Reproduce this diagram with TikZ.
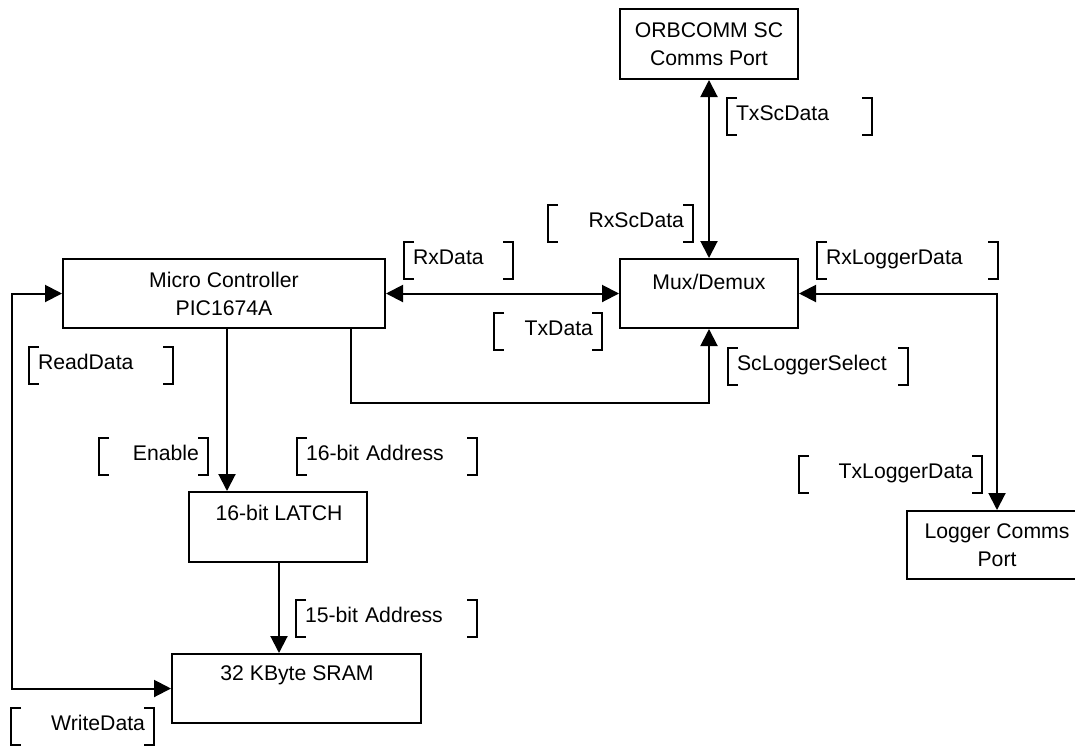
\documentclass[tikz,border=0pt]{standalone}
\usepackage{fontspec}
\setmainfont{Liberation Sans}
\usetikzlibrary{arrows.meta}

% bracketed signal name: [ text ]
\newcommand\bracketsof[1]{%
  \draw[wire] ([xshift=10pt]#1.north west) -- (#1.north west) -- (#1.south west) -- ([xshift=10pt]#1.south west);
  \draw[wire] ([xshift=-10pt]#1.north east) -- (#1.north east) -- (#1.south east) -- ([xshift=-10pt]#1.south east);
}

\begin{document}
\begin{tikzpicture}[x=1pt,y=-1pt,
  every node/.style={font=\fontsize{21.2}{28}\selectfont},
  blk/.style={draw, line width=2pt, inner sep=0pt},
  wire/.style={line width=2pt},
  tip/.style={-{Triangle[length=17pt,width=17pt]}},
  both/.style={{Triangle[length=17pt,width=17pt]}-{Triangle[length=17pt,width=17pt]}},
  sig/.style={anchor=north west, outer sep=0pt, inner xsep=9pt, inner ysep=0pt,
              minimum height=37pt, text height=15pt, text depth=8pt}
]
\useasboundingbox (0,0) rectangle (1075,745);
\fill[white] (0,0) rectangle (1075,745);

% blocks
\node[blk, minimum width=178pt, minimum height=70pt, align=center] (orb) at (709,44) {ORBCOMM SC\\Comms Port};
\node[blk, minimum width=178pt, minimum height=69pt] (mux) at (709,293.5) {};
\node (muxtext) at (709,282) {Mux/Demux};
\node[blk, minimum width=322pt, minimum height=69pt, align=center] (micro) at (224,293.5) {Micro Controller\\PIC1674A};
\node[blk, minimum width=178pt, minimum height=70pt] (latch) at (278,527) {};
\node (latchtext) at (279,513) {16-bit LATCH};
\node[blk, minimum width=249pt, minimum height=69pt] (sram) at (296.5,688.5) {};
\node (sramtext) at (297,675) {32 KByte SRAM};
\node[blk, minimum width=180pt, minimum height=68pt, align=center] (logger) at (997,545) {Logger Comms\\Port};

% connectors
\coordinate (selA) at (351,403);
\coordinate (enx) at (227,400);
\coordinate (adx) at (279,600);
\coordinate (loopx) at (12,500);

\draw[wire, both] (orb) -- (mux);
\draw[wire, both] (micro) -- (mux);
\draw[wire, tip] (micro.south -| selA) -- (selA) -| (mux.south);
\draw[wire, tip] (micro.south -| enx) -- (latch.north -| enx);
\draw[wire, tip] (latch.south -| adx) -- (sram.north -| adx);
\draw[wire, both] (micro.west) -| (loopx) |- (sram.west);
\draw[wire, both] (mux.east) -| (logger.north);

% signal names
\node[sig, text width=127pt, align=left]  (txsc)   at (727,98)  {TxScData};
\node[sig, text width=127pt, align=right] (rxsc)   at (548,205) {RxScData};
\node[sig, text width=91pt,  align=left]  (rxd)    at (404,242) {RxData};
\node[sig, text width=90pt,  align=right] (txd)    at (494,313) {TxData};
\node[sig, text width=163pt, align=left]  (rxlog)  at (817,242) {RxLoggerData};
\node[sig, text width=162pt, align=left]  (scsel)  at (728,348) {ScLoggerSelect};
\node[sig, text width=126pt, align=left]  (rdd)    at (29,347)  {ReadData};
\node[sig, text width=91pt,  align=right] (ena)    at (99,438)  {Enable};
\node[sig, text width=162pt, align=left]  (addr16) at (297,438) {16-bit Address};
\node[sig, text width=165pt, align=right] (txlog)  at (799,456) {TxLoggerData};
\node[sig, text width=163pt, align=left]  (addr15) at (296,600) {15-bit Address};
\node[sig, text width=125pt, align=right] (wrd)    at (11,708)  {WriteData};

\foreach \n in {txsc,rxsc,rxd,txd,rxlog,scsel,rdd,ena,addr16,txlog,addr15,wrd}{\bracketsof{\n}}
\end{tikzpicture}
\end{document}
